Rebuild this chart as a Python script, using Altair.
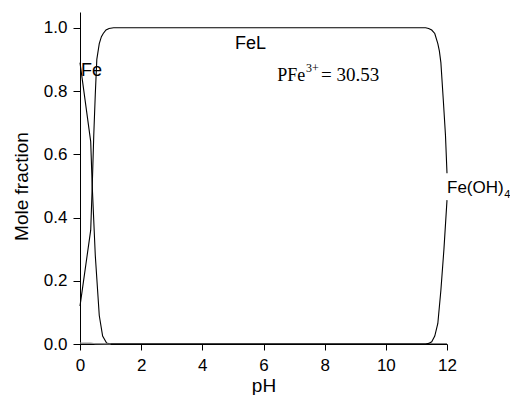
import altair as alt
import pandas as pd

# ---- data ----
ph_fe = [0, 0.35, 0.40, 0.50, 0.63, 0.74, 0.87, 1.0, 12.0]
frac_fe = [0.89, 0.64, 0.50, 0.28, 0.09, 0.025, 0.003, 0.0, 0.0]

ph_fel = [0, 0.35, 0.40, 0.45, 0.50, 0.55, 0.63, 0.70, 0.76, 0.85, 0.95, 1.1,
          11.3, 11.4, 11.5, 11.6, 11.7, 11.75, 11.8, 11.88, 11.95, 12.0]
frac_fel = [0.12, 0.36, 0.50, 0.66, 0.79, 0.90, 0.95, 0.972, 0.982, 0.993, 0.998, 1.0,
            1.0, 0.998, 0.993, 0.982, 0.95, 0.927, 0.89, 0.77, 0.66, 0.54]

ph_feoh4 = [0, 11.3, 11.4, 11.5, 11.6, 11.7, 11.8, 11.9, 12.0]
frac_feoh4 = [0.0, 0.0, 0.002, 0.007, 0.025, 0.065, 0.17, 0.30, 0.455]

ph_minor = [0, 0.35, 0.5, 1.0]
frac_minor = [0.003, 0.003, 0.001, 0.0]

species = ["Fe", "FeL", "Fe(OH)4", "minor"]
species_colors = ["#000000", "#000000", "#000000", "#9a9a9a"]

x_ticks = list(range(13))
y_ticks = [0.0, 0.1, 0.2, 0.3, 0.4, 0.5, 0.6, 0.7, 0.8, 0.9, 1.0]

# annotation texts (data coordinates)
sans_labels = ["Fe", "FeL"]
sans_ph = [0.03, 5.07]
sans_fr = [0.849, 0.934]
side_labels = ["Fe(OH)"]
side_ph = [12.0]
side_fr = [0.476]
sub_labels = ["4"]
sub_ph = [13.87]
sub_fr = [0.461]
serif_big_labels = ["PFe"]
serif_big_ph = [6.45]
serif_big_fr = [0.833]
serif_eq_labels = ["= 30.53"]
serif_eq_ph = [7.88]
serif_eq_fr = [0.833]
sup_labels = ["3+"]
sup_ph = [7.39]
sup_fr = [0.861]

rows = []
for name, xs, ys in [("Fe", ph_fe, frac_fe), ("FeL", ph_fel, frac_fel),
                     ("Fe(OH)4", ph_feoh4, frac_feoh4), ("minor", ph_minor, frac_minor)]:
    for a, b in zip(xs, ys):
        rows.append({"species": name, "pH": a, "frac": b})
df = pd.DataFrame(rows)

FONT = "Liberation Sans"
SERIF = "Liberation Serif"

xscale = alt.Scale(domain=[0, 12], nice=False, zero=False)
yscale = alt.Scale(domain=[0, 1.05], nice=False, zero=False)

xaxis = alt.Axis(
    values=x_ticks,
    labelExpr="datum.value % 2 === 0 ? datum.label : ''",
    tickSize={"condition": {"test": "datum.value % 2 !== 0", "value": 4}, "value": 6},
    tickColor="black", domainColor="black", tickWidth=1, domainWidth=1,
    labelFont=FONT, labelFontSize=17, labelColor="black",
    labelFlush=False, labelOverlap=False, labelPadding=7,
    title="pH", titleFont=FONT, titleFontSize=19, titleFontWeight="normal",
    titleColor="black", titleBaseline="alphabetic", titleY=47, grid=False,
)
yaxis = alt.Axis(
    values=y_ticks,
    labelExpr="round(datum.value * 10) % 2 === 0 ? format(datum.value, '.1f') : ''",
    tickSize={"condition": {"test": "round(datum.value * 10) % 2 !== 0", "value": 4}, "value": 7},
    tickColor="black", domainColor="black", tickWidth=1, domainWidth=1,
    labelFont=FONT, labelFontSize=17, labelColor="black",
    labelFlush=False, labelOverlap=False, labelPadding=6,
    title="Mole fraction", titleFont=FONT, titleFontSize=19, titleFontWeight="normal",
    titleColor="black", titleAngle=270, titleBaseline="alphabetic", titleAlign="center",
    titleX=-53, titleY=174, grid=False,
)

lines = alt.Chart(df).mark_line(strokeWidth=1.1).encode(
    x=alt.X("pH:Q", scale=xscale, axis=xaxis),
    y=alt.Y("frac:Q", scale=yscale, axis=yaxis),
    color=alt.Color("species:N", scale=alt.Scale(domain=species, range=species_colors), legend=None),
)

def text_layer(labels, xs, ys, font, size):
    d = pd.DataFrame({"t": labels, "pH": xs, "frac": ys})
    return alt.Chart(d).mark_text(
        align="left", baseline="alphabetic", font=font, fontSize=size, color="black"
    ).encode(
        x=alt.X("pH:Q", scale=xscale),
        y=alt.Y("frac:Q", scale=yscale),
        text="t:N",
    )

chart = alt.layer(
    lines,
    text_layer(sans_labels, sans_ph, sans_fr, FONT, 18),
    text_layer(side_labels, side_ph, side_fr, FONT, 17),
    text_layer(sub_labels, sub_ph, sub_fr, FONT, 11),
    text_layer(serif_big_labels, serif_big_ph, serif_big_fr, SERIF, 18),
    text_layer(serif_eq_labels, serif_eq_ph, serif_eq_fr, SERIF, 19),
    text_layer(sup_labels, sup_ph, sup_fr, SERIF, 12),
).properties(
    width=367, height=332,
    padding={"left": 72, "top": 4, "right": 63, "bottom": 51},
    autosize=alt.AutoSizeParams(type="none"),
    background="white",
).configure_view(stroke=None)

chart.save("out.html", embed_options={"renderer": "svg", "actions": False})
